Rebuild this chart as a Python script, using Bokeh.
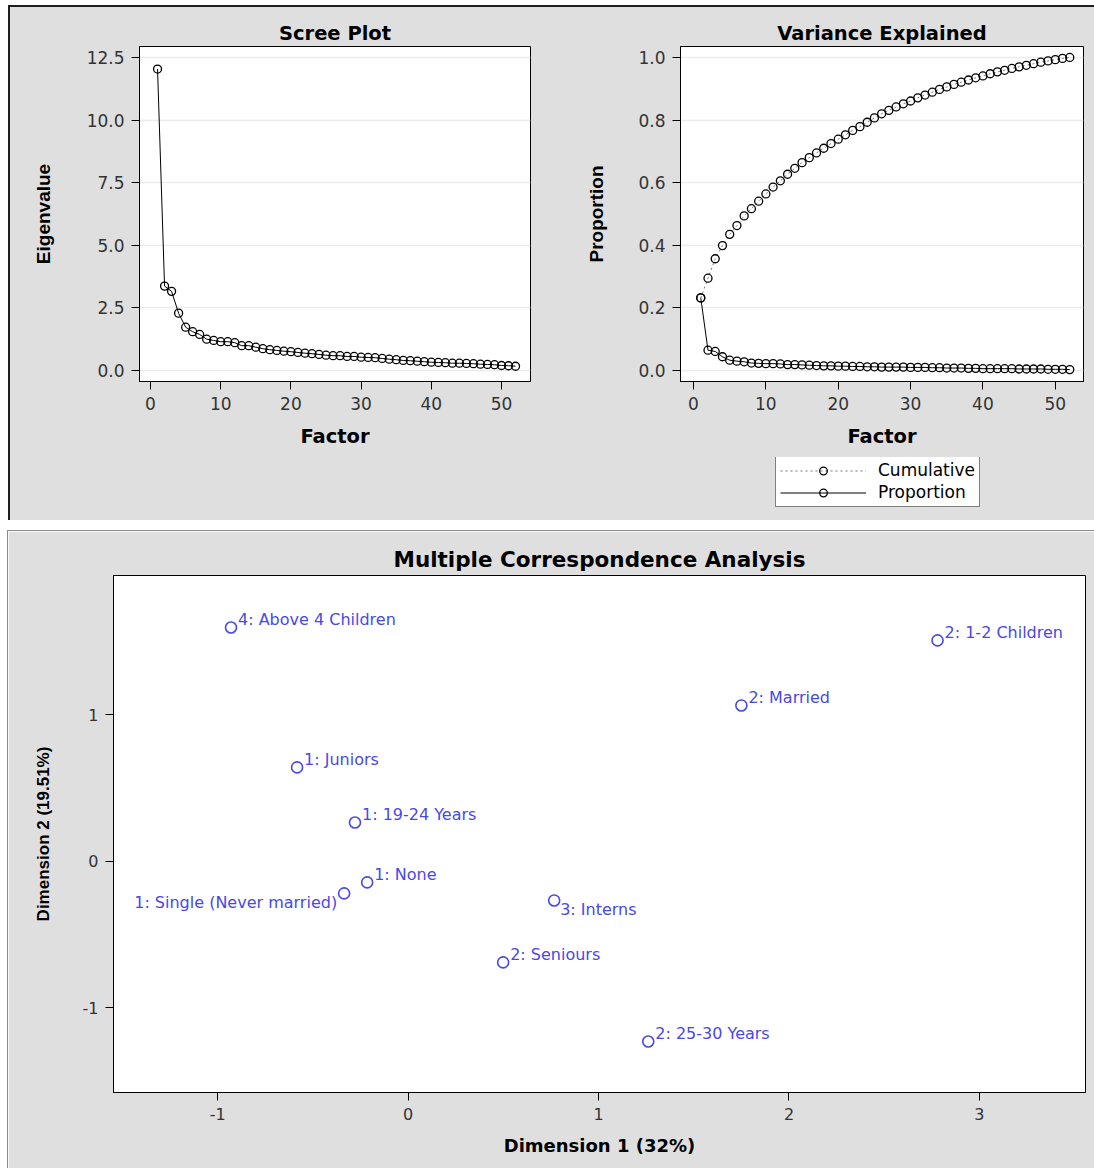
from bokeh.plotting import figure
from bokeh.models import (Range1d, FixedTicker, Legend, LegendItem, ColumnDataSource,
                          PrintfTickFormatter, Spacer)
from bokeh.layouts import row, column
from bokeh.embed import file_html
from bokeh.resources import INLINE
from bokeh.core.properties import value

# ---------------- data ----------------
factor = list(range(1, 53))

eigenvalue = [12.04, 3.37, 3.16, 2.29, 1.73, 1.55, 1.44, 1.25, 1.20, 1.15,
              1.15, 1.11, 0.99, 0.99, 0.93, 0.87, 0.83, 0.80, 0.77, 0.75,
              0.72, 0.69, 0.67, 0.64, 0.61, 0.59, 0.59, 0.56, 0.56, 0.53,
              0.52, 0.51, 0.48, 0.45, 0.43, 0.40, 0.39, 0.37, 0.35, 0.33,
              0.32, 0.31, 0.29, 0.29, 0.28, 0.27, 0.25, 0.24, 0.23, 0.20,
              0.19, 0.17]

proportion = [0.232, 0.065, 0.061, 0.044, 0.033, 0.030, 0.028, 0.024, 0.023, 0.022,
              0.022, 0.021, 0.019, 0.019, 0.018, 0.017, 0.016, 0.015, 0.015, 0.014,
              0.014, 0.013, 0.013, 0.012, 0.012, 0.011, 0.011, 0.011, 0.011, 0.010,
              0.010, 0.010, 0.009, 0.009, 0.008, 0.008, 0.008, 0.007, 0.007, 0.006,
              0.006, 0.006, 0.006, 0.006, 0.005, 0.005, 0.005, 0.005, 0.004, 0.004,
              0.004, 0.003]

cumulative = [0.232, 0.295, 0.357, 0.399, 0.435, 0.463, 0.494, 0.517, 0.541, 0.564,
              0.586, 0.606, 0.627, 0.646, 0.664, 0.680, 0.695, 0.710, 0.725, 0.739,
              0.753, 0.767, 0.779, 0.793, 0.807, 0.820, 0.831, 0.842, 0.852, 0.861,
              0.871, 0.880, 0.889, 0.898, 0.906, 0.914, 0.921, 0.928, 0.935, 0.941,
              0.948, 0.954, 0.959, 0.965, 0.970, 0.975, 0.980, 0.985, 0.989, 0.993,
              0.997, 1.000]

scree_xticks = [0, 10, 20, 30, 40, 50]
scree_yticks = [0, 2.5, 5, 7.5, 10, 12.5]
var_yticks = [0, 0.2, 0.4, 0.6, 0.8, 1.0]
legend_labels = ["Cumulative", "Proportion"]

mca_labels = ["4: Above 4 Children", "2: 1-2 Children", "2: Married", "1: Juniors",
              "1: 19-24 Years", "1: None", "1: Single (Never married)", "3: Interns",
              "2: Seniours", "2: 25-30 Years"]
mca_dim1 = [-0.93, 2.78, 1.75, -0.583, -0.279, -0.215, -0.336, 0.767, 0.499, 1.261]
mca_dim2 = [1.597, 1.509, 1.065, 0.642, 0.266, -0.143, -0.218, -0.266, -0.689, -1.229]
mca_xticks = [-1, 0, 1, 2, 3]
mca_yticks = [-1, 0, 1]

# label placement (screen offsets) -- style only
label_dx = {"1: Single (Never married)": -7, "3: Interns": 6}
label_dy = {"1: Single (Never married)": 9, "3: Interns": 9}
label_align = {"1: Single (Never married)": "right"}

# ---------------- styles ----------------
BG = "#dfdfdf"
TICK_FONT = "DejaVu Sans"
BOLD_FONT = "DejaVu Sans"
ROT_FONT = "Liberation Sans"


def style_axes(p, tick_size, xlabel_size, ylabel_size, ylab_standoff, xlab_standoff):
    for ax in (p.xaxis[0], p.yaxis[0]):
        ax.axis_line_color = "black"
        ax.major_tick_line_color = "black"
        ax.major_tick_out = 8
        ax.major_tick_in = 0
        ax.minor_tick_line_color = None
        ax.major_label_text_font = TICK_FONT
        ax.major_label_text_font_size = tick_size
        ax.major_label_text_color = "#333333"
        ax.major_label_standoff = 7
        ax.axis_label_text_color = "black"
        ax.axis_label_text_font_style = "bold"
    p.xaxis[0].axis_label_text_font = BOLD_FONT
    p.xaxis[0].axis_label_text_font_size = xlabel_size
    p.xaxis[0].axis_label_standoff = xlab_standoff
    p.yaxis[0].axis_label_text_font = ROT_FONT
    p.yaxis[0].axis_label_text_font_size = ylabel_size
    p.yaxis[0].axis_label_standoff = ylab_standoff
    p.outline_line_color = "black"
    p.outline_line_width = 1
    p.border_fill_color = BG
    p.background_fill_color = "white"
    p.title.text_font = BOLD_FONT
    p.title.text_font_style = "bold"
    p.title.align = "center"
    p.title.text_color = "black"


# ---------------- Scree plot ----------------
src_scree = ColumnDataSource(dict(factor=factor, eig=eigenvalue))
p1 = figure(width=550, height=513, frame_width=391, frame_height=335,
            min_border_left=129, min_border_right=30, min_border_top=39, min_border_bottom=139,
            x_range=Range1d(-1.57, 54.13), y_range=Range1d(-0.44, 12.94),
            title="Scree Plot", x_axis_label="Factor", y_axis_label="Eigenvalue",
            output_backend="svg", toolbar_location=None)
p1.line("factor", "eig", source=src_scree, line_color="black", line_width=1)
p1.scatter("factor", "eig", source=src_scree, marker="circle", size=8,
           line_color="black", line_width=1.3, fill_color=None)
p1.xaxis.ticker = FixedTicker(ticks=scree_xticks)
p1.yaxis.ticker = FixedTicker(ticks=scree_yticks)
p1.yaxis.formatter = PrintfTickFormatter(format="%.1f")
p1.xgrid.grid_line_color = None
p1.ygrid.grid_line_color = "#ececec"
p1.ygrid.grid_line_width = 1.5
style_axes(p1, "17px", "19.5px", "19px", 30, 12)
p1.title.text_font_size = "19.5px"
p1.title.standoff = 4

# ---------------- Variance explained ----------------
src_var = ColumnDataSource(dict(factor=factor, prop=proportion, cum=cumulative))
p2 = figure(width=534, height=450, frame_width=403, frame_height=335,
            min_border_left=120, min_border_right=11, min_border_top=39, min_border_bottom=76,
            x_range=Range1d(-1.8, 53.9), y_range=Range1d(-0.035, 1.035),
            title="Variance Explained", x_axis_label="Factor", y_axis_label="Proportion",
            output_backend="svg", toolbar_location=None)
cum_style = dict(line_color="#777777", line_width=1, line_dash="2 3")
prop_style = dict(line_color="black", line_width=1)
pt_style = dict(marker="circle", size=8, line_color="black", line_width=1.3, fill_color=None)
p2.line("factor", "cum", source=src_var, **cum_style)
p2.scatter("factor", "cum", source=src_var, **pt_style)
p2.line("factor", "prop", source=src_var, **prop_style)
p2.scatter("factor", "prop", source=src_var, **pt_style)
p2.xaxis.ticker = FixedTicker(ticks=scree_xticks)
p2.yaxis.ticker = FixedTicker(ticks=var_yticks)
p2.yaxis.formatter = PrintfTickFormatter(format="%.1f")
p2.xgrid.grid_line_color = None
p2.ygrid.grid_line_color = "#ececec"
p2.ygrid.grid_line_width = 1.5
style_axes(p2, "17px", "19.5px", "19px", 28, 12)
p2.title.text_font_size = "19.5px"
p2.title.standoff = 4

# legend panel under the Variance Explained plot (its frame aligns with p2's frame)
pl = figure(width=534, height=63, min_border=0, min_border_left=0, min_border_right=0,
            min_border_top=0, min_border_bottom=0,
            x_range=Range1d(0, 1), y_range=Range1d(0, 1),
            x_axis_type=None, y_axis_type=None,
            output_backend="svg", toolbar_location=None)
pl.grid.grid_line_color = None
pl.outline_line_color = None
pl.background_fill_color = BG
pl.border_fill_color = BG
key_src = ColumnDataSource(dict(x=[-5, -4], y=[-5, -4]))
k1 = pl.line("x", "y", source=key_src, **cum_style)
k2 = pl.scatter("x", "y", source=key_src, **pt_style)
k3 = pl.line("x", "y", source=key_src, **prop_style)
k4 = pl.scatter("x", "y", source=key_src, **pt_style)
legend = Legend(items=[LegendItem(label=legend_labels[0], renderers=[k1, k2]),
                       LegendItem(label=legend_labels[1], renderers=[k3, k4])],
                location=(95, 13), orientation="vertical",
                glyph_width=86, glyph_height=19, label_height=19, label_standoff=12,
                padding=4, spacing=2, margin=0,
                label_text_font=TICK_FONT, label_text_font_size="17px",
                label_text_color="black",
                border_line_color="black", border_line_width=1,
                background_fill_color="white", background_fill_alpha=1)
pl.add_layout(legend, "center")

# ---------------- MCA ----------------
BLUE = "#4848e8"
dx = [label_dx.get(t, 7) for t in mca_labels]
dy = [label_dy.get(t, -8) for t in mca_labels]
al = [label_align.get(t, "left") for t in mca_labels]
src_mca = ColumnDataSource(dict(d1=mca_dim1, d2=mca_dim2, lab=mca_labels, dx=dx, dy=dy, al=al))

p3 = figure(width=1086, height=637, frame_width=972, frame_height=517,
            min_border_left=105, min_border_right=9, min_border_top=44, min_border_bottom=76,
            x_range=Range1d(-1.547, 3.557), y_range=Range1d(-1.577, 1.952),
            title="Multiple Correspondence Analysis",
            x_axis_label="Dimension 1 (32%)", y_axis_label="Dimension 2 (19.51%)",
            output_backend="svg", toolbar_location=None)
p3.scatter("d1", "d2", source=src_mca, marker="circle", size=11,
           line_color=BLUE, line_width=1.6, fill_color=None)
p3.text("d1", "d2", text="lab", source=src_mca, x_offset="dx", y_offset="dy",
        text_align="al", text_baseline="middle", text_color=BLUE,
        text_font=value("DejaVu Sans"), text_font_size="16px")
p3.xaxis.ticker = FixedTicker(ticks=mca_xticks)
p3.yaxis.ticker = FixedTicker(ticks=mca_yticks)
p3.xaxis.formatter = PrintfTickFormatter(format="%d")
p3.yaxis.formatter = PrintfTickFormatter(format="%d")
p3.grid.grid_line_color = None
style_axes(p3, "16px", "18px", "17px", 27, 12)
p3.title.text_font_size = "21.5px"
p3.title.standoff = 8

DARK = {"background-color": "#1e1e1e"}
GRAY = {"background-color": "#8a8a8a"}

top_block = column(Spacer(width=1086, height=2, styles=DARK),
                   row(Spacer(width=2, height=513, styles=DARK), p1,
                       column(p2, pl, spacing=0),
                       styles={"background-color": BG}),
                   spacing=0)
bottom_block = column(Spacer(width=1087, height=1, styles=GRAY),
                      row(Spacer(width=1, height=637, styles=GRAY), p3),
                      spacing=0)

layout = column(Spacer(width=1094, height=5),
                row(Spacer(width=8, height=515), top_block),
                Spacer(width=1094, height=10),
                row(Spacer(width=7, height=638), bottom_block),
                spacing=0)

open("out.html", "w").write(file_html(layout, INLINE))
